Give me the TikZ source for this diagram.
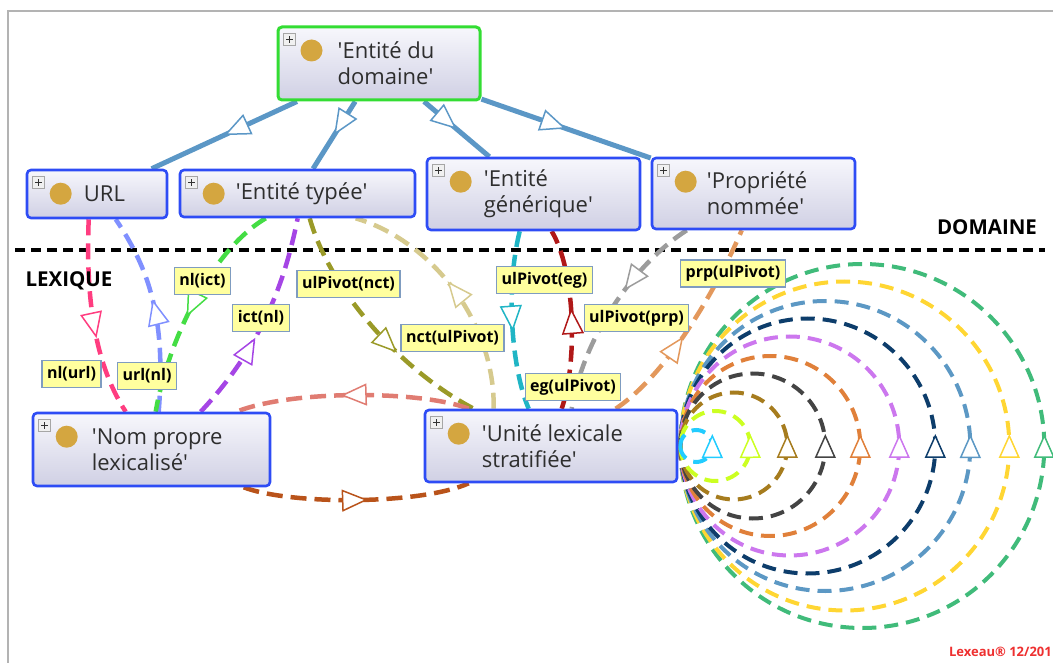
\documentclass[tikz,border=0pt]{standalone}
\usepackage{fontspec}
\setmainfont{Open Sans}
\usetikzlibrary{arrows.meta,calc,decorations.markings}
\pgfdeclarelayer{bg}
\pgfsetlayers{bg,main}
\definecolor{nodeblue}{HTML}{2E4CF5}
\definecolor{nodegreen}{HTML}{33DD33}
\definecolor{nodetop}{HTML}{F7F7FC}
\definecolor{nodebot}{HTML}{D0D0E4}
\definecolor{iconGold}{HTML}{D4A640}
\definecolor{subblue}{HTML}{5B97C6}
\definecolor{lblfill}{HTML}{FFFF9E}
\definecolor{lblborder}{HTML}{7F9CC0}
\definecolor{framegray}{HTML}{B3B3B3}
\definecolor{lexred}{HTML}{EE3030}
\definecolor{cpink}{HTML}{FF3D80}
\definecolor{clblue}{HTML}{8090FF}
\definecolor{cgreen}{HTML}{44DD44}
\definecolor{cpurple}{HTML}{A545E5}
\definecolor{colive}{HTML}{9A9A28}
\definecolor{ckhaki}{HTML}{D6CA8E}
\definecolor{cteal}{HTML}{20B5C5}
\definecolor{cdred}{HTML}{B01818}
\definecolor{cgray}{HTML}{9C9C9C}
\definecolor{corange}{HTML}{E3985C}
\definecolor{csalmon}{HTML}{E07C72}
\definecolor{crust}{HTML}{B9531A}
\definecolor{lcA}{HTML}{22CCFF}
\definecolor{lcB}{HTML}{CCFF22}
\definecolor{lcC}{HTML}{A67C1E}
\definecolor{lcD}{HTML}{444444}
\definecolor{lcE}{HTML}{E0803A}
\definecolor{lcF}{HTML}{CC77EE}
\definecolor{lcG}{HTML}{0D3D6B}
\definecolor{lcH}{HTML}{5C98C4}
\definecolor{lcI}{HTML}{FFD633}
\definecolor{lcJ}{HTML}{40BB7A}
\newcommand\clsicons[1]{%
  \draw[draw=gray!70, fill=gray!12, line width=0.6pt] ($(#1.north west)+(7,8)$) rectangle ++(12,12);
  \draw[line width=1pt, black!80] ($(#1.north west)+(13,10.5)$) -- ++(0,7) ($(#1.north west)+(9.5,14)$) -- ++(7,0);
  \fill[iconGold] ($(#1.north west)+(35,25)$) circle[radius=11];
}
\begin{document}
\begin{tikzpicture}[x=1pt,y=-1pt,
  cls/.style={draw=nodeblue, line width=2.6pt, rounded corners=4pt, top color=nodetop, bottom color=nodebot, inner sep=0pt},
  clstxt/.style={anchor=west, align=left, inner sep=0pt, text=black!82, font=\fontsize{22}{26}\selectfont},
  lbl/.style={draw=lblborder, fill=lblfill, line width=1.2pt, inner xsep=5pt, inner ysep=0pt, minimum height=27pt, font=\bfseries\fontsize{16}{18}\selectfont},
  midtip/.style={postaction={decorate}, decoration={markings, mark=at position #1 with {\arrow{Triangle[length=26pt,width=22pt,fill=white,line width=1.5pt]}}}},
  looptip/.style={postaction={decorate}, decoration={markings, mark=at position 0.5 with {\pgftransformxshift{12pt}\arrow{Triangle[length=24pt,width=21pt,fill=white,line width=1.5pt]}}}},
  subedge/.style={draw=subblue, line width=5pt, midtip=0.5},
  rel/.style={line width=4.5pt, dash pattern=on 16pt off 8pt},
  loopc/.style={line width=4pt, dash pattern=on 14pt off 8pt, looptip},
  septext/.style={font=\bfseries\fontsize{20.5}{24}\selectfont, inner sep=0pt}
]
\useasboundingbox (0,0) rectangle (1053,663);
\draw[framegray, line width=2.5pt] (8,663) -- (8,11) -- (1053,11);

% class nodes
\node[cls, draw=nodegreen, line width=3pt, minimum width=202pt, minimum height=73pt] (top) at (379,63.5) {};
\node[cls, minimum width=140pt, minimum height=48pt] (url) at (97,194) {};
\node[cls, minimum width=235pt, minimum height=47pt] (typee) at (297.5,193.5) {};
\node[cls, minimum width=213pt, minimum height=72pt] (gen) at (533.5,194) {};
\node[cls, minimum width=203pt, minimum height=71pt] (prop) at (753.5,193.5) {};
\node[cls, minimum width=237pt, minimum height=73pt] (np) at (151.5,449.5) {};
\node[cls, minimum width=252pt, minimum height=72pt] (ul) at (551,446) {};

\clsicons{top}\clsicons{url}\clsicons{typee}\clsicons{gen}\clsicons{prop}\clsicons{np}\clsicons{ul}

\node[clstxt] (toptxt) at ($(top.west)+(61,0)$) {\textquotesingle Entité du\\domaine\textquotesingle};
\node[clstxt] (urltxt) at ($(url.west)+(58,0)$) {URL};
\node[clstxt] (typeetxt) at ($(typee.west)+(57,0)$) {\textquotesingle Entité typée\textquotesingle};
\node[clstxt] (gentxt) at ($(gen.west)+(58,0)$) {\textquotesingle Entité\\générique\textquotesingle};
\node[clstxt] (proptxt) at ($(prop.west)+(56,0)$) {\textquotesingle Propriété\\nommée\textquotesingle};
\node[clstxt] (nptxt) at ($(np.west)+(60,0)$) {\textquotesingle Nom propre\\lexicalisé\textquotesingle};
\node[clstxt] (ultxt) at ($(ul.west)+(58,0)$) {\textquotesingle Unité lexicale\\stratifiée\textquotesingle};

\coordinate (lp) at ($(ul.east)+(2,0)$);

\begin{pgfonlayer}{bg}
% subclass edges
\draw[subedge] (top) -- (url);
\draw[subedge] (top) -- (typee);
\draw[subedge] (top) -- (gen);
\draw[subedge] (top) -- (prop);
% separator
\draw[line width=3.5pt, dash pattern=on 10pt off 6pt] (15,250) -- (1045,250);
% relations
\draw[rel, cpink, midtip=0.6] ($(url.south west)+(63,0)$) .. controls (86,290) and (92,360) .. ($(np.north west)+(94,0)$);
\draw[rel, clblue, midtip=0.56] ($(np.north west)+(127,0)$) .. controls (166,320) and (150,270) .. ($(url.south west)+(90,0)$);
\draw[rel, cgreen, midtip=0.56] ($(typee.south west)+(87,0)$) .. controls (212,250) and (168,340) .. ($(np.north west)+(124,0)$);
\draw[rel, cpurple, midtip=0.42] ($(np.north west)+(169,0)$) .. controls (268,340) and (287,270) .. ($(typee.south west)+(119,0)$);
\draw[rel, colive, midtip=0.63] ($(typee.south west)+(131,0)$) .. controls (330,290) and (400,370) .. ($(ul.north west)+(50,0)$);
\draw[rel, ckhaki, midtip=0.55] ($(ul.north west)+(70,0)$) .. controls (495,320) and (430,240) .. ($(typee.south west)+(177,0)$);
\draw[rel, cteal, midtip=0.56] ($(gen.south west)+(94,0)$) .. controls (505,290) and (512,370) .. ($(ul.north west)+(105,0)$);
\draw[rel, cdred, midtip=0.56] ($(ul.north west)+(138,0)$) .. controls (578,360) and (575,270) .. ($(gen.south west)+(126,0)$);
\draw[rel, cgray, midtip=0.4] ($(prop.south west)+(36,0)$) .. controls (640,260) and (585,330) .. ($(ul.north west)+(148,0)$);
\draw[rel, corange, midtip=0.45] ($(ul.north west)+(192,0)$) .. controls (674,370) and (725,270) .. ($(prop.south west)+(91,0)$);
\draw[rel, csalmon, midtip=0.55] ($(ul.north west)+(45,0)$) .. controls (420,390) and (290,390) .. ($(np.north west)+(205,0)$);
\draw[rel, crust, midtip=0.55] ($(np.south west)+(212,0)$) .. controls (290,505) and (420,505) .. ($(ul.south west)+(45,0)$);
% self loops on 'Unite lexicale stratifiee'
\foreach \r/\c in {182/lcJ,164.5/lcI,145/lcH,127.5/lcG,109.5/lcF,90/lcE,72.5/lcD,53.5/lcC,35/lcB,16/lcA}{
  \draw[loopc, draw=\c] (lp) arc[start angle=180, end angle=-180, radius=\r];
}
\end{pgfonlayer}

% relation labels
\node[lbl] (l1) at (202.5,281) {nl(ict)};
\node[lbl] (l2) at (348.5,284) {ulPivot(nct)};
\node[lbl] (l3) at (261,318) {ict(nl)};
\node[lbl] (l4) at (71.5,374) {nl(url)};
\node[lbl] (l5) at (147,376) {url(nl)};
\node[lbl] (l6) at (544.5,280) {ulPivot(eg)};
\node[lbl] (l7) at (636.5,318) {ulPivot(prp)};
\node[lbl] (l8) at (452.5,338) {nct(ulPivot)};
\node[lbl] (l9) at (573,387) {eg(ulPivot)};
\node[lbl] (l10) at (733,273.5) {prp(ulPivot)};

\node[septext] (dom) at (987,227) {DOMAINE};
\node[septext] (lexq) at (69,281) {LEXIQUE};
\node[anchor=east, text=lexred, inner sep=0pt, font=\bfseries\fontsize{13}{15}\selectfont] (lexeau) at (1052,652) {Lexeau® 12/201};
\end{tikzpicture}
\end{document}
